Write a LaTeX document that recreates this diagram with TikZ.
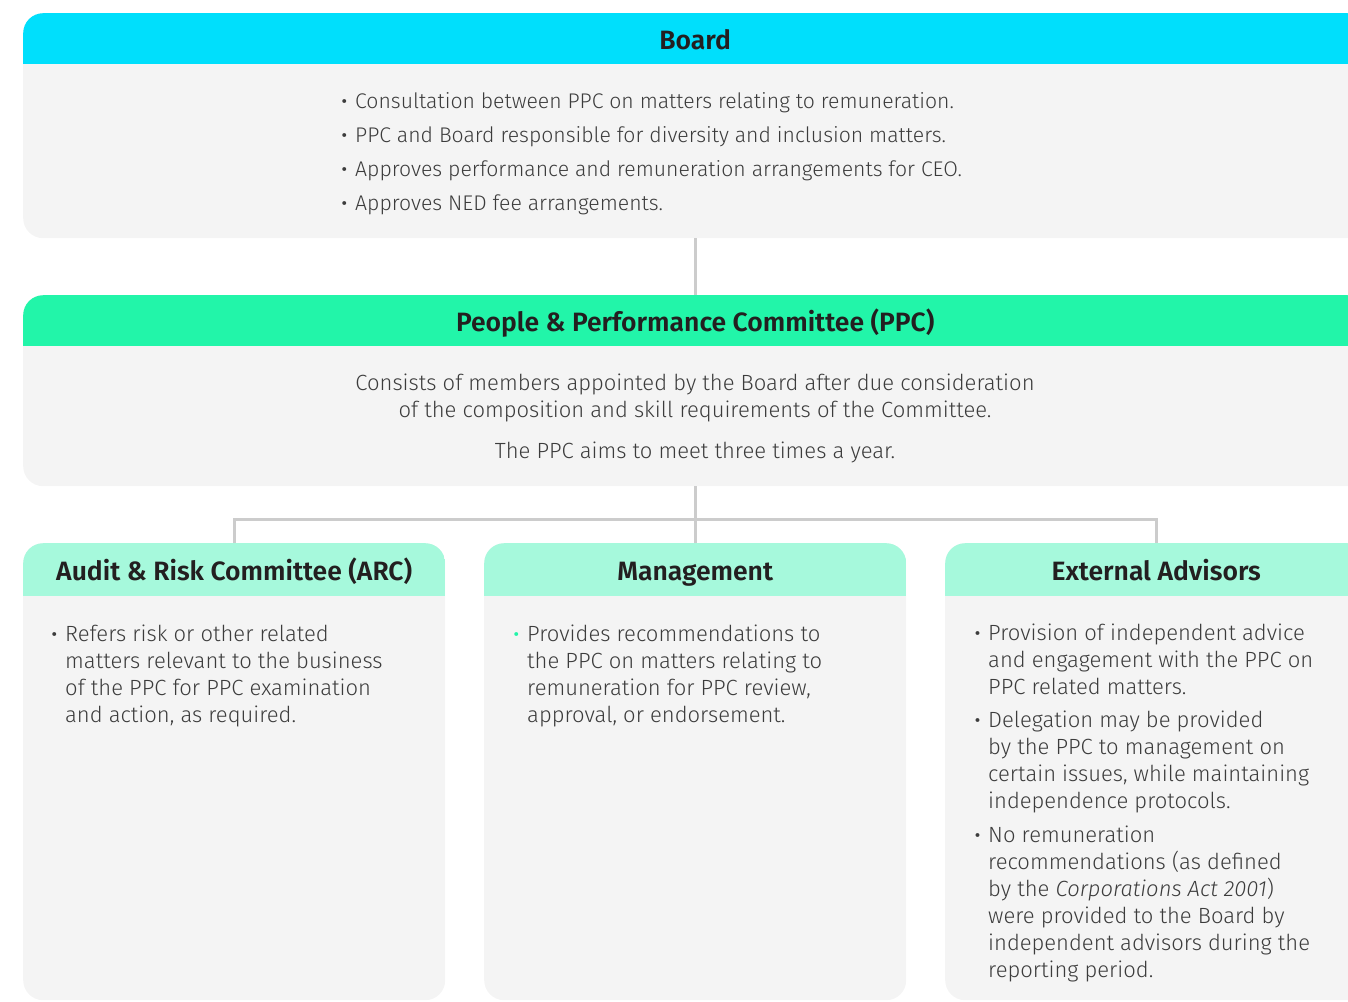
\documentclass[tikz,border=0pt]{standalone}
\usepackage{fontspec}
\setmainfont{Fira Sans Light}[BoldFont={Fira Sans SemiBold},ItalicFont={Fira Sans Light Italic}]
\usetikzlibrary{positioning}
\definecolor{boardcyan}{HTML}{00DFFC}
\definecolor{ppcgreen}{HTML}{22F5A9}
\definecolor{mintcol}{HTML}{A6F9DC}
\definecolor{cardgray}{HTML}{F4F4F4}
\definecolor{linkgray}{HTML}{CCCCCC}
\definecolor{textgray}{HTML}{3C3C3C}
\definecolor{headtext}{HTML}{231F20}
\newcommand\bul[1][textgray]{\llap{\textcolor{#1}{\raisebox{-2pt}{\fontsize{26}{26}\selectfont\textbullet}}\hspace{7pt}}}
\tikzset{
  card/.style={rectangle,rounded corners=20pt,fill=cardgray,inner sep=0pt,anchor=north west,minimum width=#1},
  card head/.style 2 args={path picture={\fill[#1,sharp corners] (path picture bounding box.north west) rectangle ([yshift=-#2]path picture bounding box.north east);}},
  head label/.style={font=\fontsize{26.5}{30}\selectfont\bfseries,text=headtext,inner sep=0pt,text height=22pt,text depth=0pt,minimum height=#1},
  item/.style={font=\fontsize{22}{27}\selectfont,text=textgray,inner sep=0pt,align=left,anchor=base west},
  board item/.style={item,font=\fontsize{21.2}{27}\selectfont},
  para/.style={font=\fontsize{22}{27}\selectfont,text=textgray,inner sep=0pt,align=center,anchor=base},
  link/.style={draw=linkgray,line width=3pt},
}
\begin{document}
\begin{tikzpicture}[x=1pt,y=-1pt]
  \useasboundingbox (0,0) rectangle (1348,1001);
  \clip (0,0) rectangle (1348,1001);
  % top level
  \node[card=1344pt,minimum height=225pt,card head={boardcyan}{51pt}] (board) at (23,13) {};
  \node[head label=51pt,below=0pt of board.north] (boardtitle) {Board};
  \foreach \i/\y/\t in {1/108/{Consultation between PPC on matters relating to remuneration.},
                        2/142/{PPC and Board responsible for diversity and inclusion matters.},
                        3/176/{Approves performance and remuneration arrangements for CEO.},
                        4/210/{Approves NED fee arrangements.}}{
    \node[board item] (boarditem\i) at (355,\y) {\bul\t};
  }
  % committee (base = last line)
  \node[card=1344pt,minimum height=191pt,card head={ppcgreen}{51pt}] (ppc) at (23,295) {};
  \node[head label=51pt,below=0pt of ppc.north] (ppctitle) {People \& Performance Committee (PPC)};
  \node[para] (ppctext) at (695,417) {Consists of members appointed by the Board after due consideration\\of the composition and skill requirements of the Committee.};
  \node[para] (ppcmeet) at (695,458) {The PPC aims to meet three times a year.};
  % lower row
  \foreach \n/\x/\t in {arc/23/{Audit \& Risk Committee (ARC)},mgmt/484/Management,ext/945/External Advisors}{
    \node[card=422pt,minimum height=457pt,card head={mintcol}{53pt}] (\n) at (\x,543) {};
    \node[head label=53pt,below=0pt of \n.north] (\n title) {\t};
  }
  \node[item] (arcitem) at (65,722) {\bul Refers risk or other related\\matters relevant to the business\\of the PPC for PPC examination\\and action, as required.};
  \node[item] (mgmtitem) at (527,722) {\bul[ppcgreen]Provides recommendations to\\the PPC on matters relating to\\remuneration for PPC review,\\approval, or endorsement.};
  \node[item] (extitem1) at (988,694) {\bul Provision of independent advice\\and engagement with the PPC on\\PPC related matters.};
  \node[item] (extitem2) at (988,808) {\bul Delegation may be provided\\by the PPC to management on\\certain issues, while maintaining\\independence protocols.};
  \node[item] (extitem3) at (988,977) {\bul No remuneration\\recommendations (as defined\\by the \textit{Corporations Act 2001})\\were provided to the Board by\\independent advisors during the\\reporting period.};
  % connectors
  \coordinate (bus) at (695,519);
  \draw[link] (board.south) -- (ppc.north);
  \draw[link] (ppc.south) -- (mgmt.north);
  \draw[link] (arc.north) |- (bus) -| (ext.north);
\end{tikzpicture}
\end{document}
